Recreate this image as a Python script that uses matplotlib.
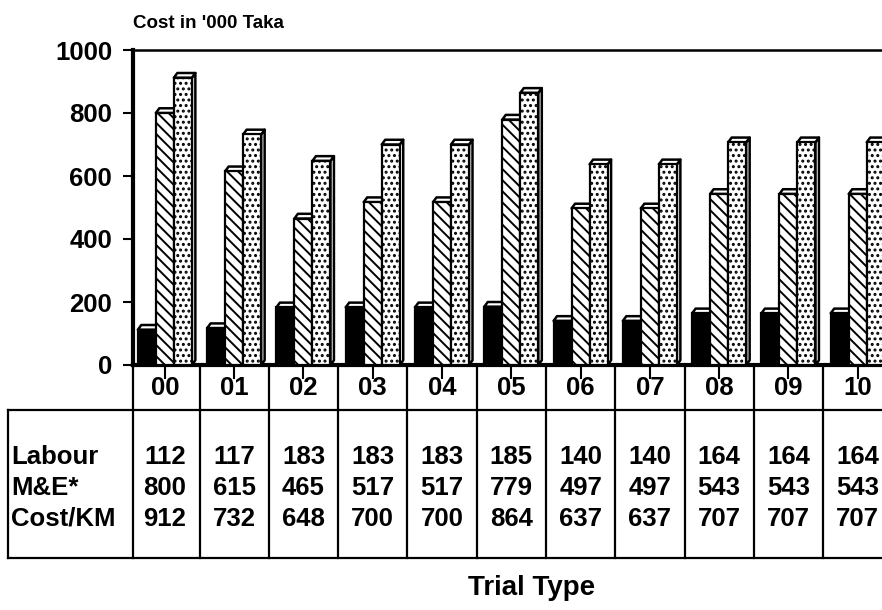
import numpy as np
import matplotlib.pyplot as plt
from matplotlib import rcParams
from matplotlib.patches import Polygon
from matplotlib.transforms import blended_transform_factory

# ========================
# ДАННЫЕ
# ========================
trial_types = ["00", "01", "02", "03", "04", "05", "06", "07", "08", "09", "10"]
labour = [112, 117, 183, 183, 183, 185, 140, 140, 164, 164, 164]
m_and_e = [800, 615, 465, 517, 517, 779, 497, 497, 543, 543, 543]
cost_km = [912, 732, 648, 700, 700, 864, 637, 637, 707, 707, 707]
row_names = ["Labour", "M&E*", "Cost/KM"]

# ========================
# СТИЛЬ
# ========================
rcParams['font.family'] = ['Liberation Sans', 'DejaVu Sans']
rcParams['font.weight'] = 'bold'
rcParams['hatch.linewidth'] = 1.4
rcParams['hatch.color'] = 'black'

FS_TABLE = 18.5
FS_TICK = 18.5

W, H = 882, 610
fig = plt.figure(figsize=(W / 100, H / 100), dpi=100)

# положение осей в пикселях (от верхнего края)
AX_L, AX_TOP, AX_BOT = 133, 50, 365
ax = fig.add_axes([AX_L / W, 1 - AX_BOT / H, 1 - AX_L / W, (AX_BOT - AX_TOP) / H])

x = np.arange(len(trial_types))
bw = 0.26
dx, dy = 0.05, 15   # глубина "3D" крышек

series = [
    (labour, -bw, dict(color='black', edgecolor='black')),
    (m_and_e, 0.0, dict(color='white', edgecolor='black', hatch='\\\\\\')),
    (cost_km, bw, dict(color='white', edgecolor='black', hatch='...')),
]

for k, (vals, off, style) in enumerate(series):
    ax.bar(x + off, vals, bw, linewidth=1.6, zorder=3 + 2 * k, **style)
    for xi, v in zip(x + off, vals):
        x0, x1 = xi - bw / 2, xi + bw / 2
        top = Polygon([(x0, v), (x0 + dx, v + dy), (x1 + dx, v + dy), (x1, v)],
                      closed=True, facecolor='white', edgecolor='black',
                      linewidth=1.8, joinstyle='round', zorder=2 + 2 * k)
        side = Polygon([(x1, 0), (x1, v), (x1 + dx, v + dy), (x1 + dx, dy)],
                       closed=True, facecolor='white', edgecolor='black',
                       linewidth=1.8, joinstyle='round', zorder=2 + 2 * k)
        ax.add_patch(side)
        ax.add_patch(top)

ax.set_xlim(-0.46, 10.35)
ax.set_ylim(0, 1000)
ax.set_yticks([0, 200, 400, 600, 800, 1000])
ax.set_xticks(x)
ax.set_xticklabels([])
ax.tick_params(axis='y', direction='out', length=7, width=1.5, pad=8, labelsize=FS_TICK)
ax.tick_params(axis='x', direction='out', length=10, width=1.5)
for lbl in ax.get_yticklabels():
    lbl.set_fontweight('bold')
ax.spines['right'].set_visible(False)
ax.spines['left'].set_linewidth(3)
ax.spines['top'].set_linewidth(1.8)
ax.spines['bottom'].set_linewidth(3)

fig.text(AX_L / W, 1 - 24 / H, "Cost in '000 Taka", fontsize=13.5,
         fontweight='bold', ha='left', va='center')

# ========================
# ТАБЛИЦА ПОД ГРАФИКОМ
# ========================
tr = blended_transform_factory(ax.transData, fig.transFigure)
fy = lambda py: 1 - py / H   # пиксели сверху -> доли фигуры
HDR_BOT, TBL_BOT, TBL_L = 410, 558, 8
row_y = [457, 488, 519]
lw = 1.6

# вертикальные разделители столбцов
for b in np.arange(len(trial_types) - 1) + 0.5:
    ax.plot([b, b], [fy(AX_BOT), fy(TBL_BOT)], transform=tr, color='black',
            lw=lw, clip_on=False)
ax.plot([-0.46, -0.46], [fy(AX_BOT), fy(TBL_BOT)], transform=tr, color='black',
        lw=lw, clip_on=False)

# горизонтальные линии и левая граница таблицы
fig.add_artist(plt.Line2D([TBL_L / W, 1], [fy(HDR_BOT)] * 2, color='black', lw=lw))
fig.add_artist(plt.Line2D([TBL_L / W, 1], [fy(TBL_BOT)] * 2, color='black', lw=lw))
fig.add_artist(plt.Line2D([TBL_L / W] * 2, [fy(HDR_BOT), fy(TBL_BOT)], color='black', lw=lw))

for xi, name in zip(x, trial_types):
    ax.text(xi, fy(388), name, transform=tr, ha='center', va='center',
            fontsize=FS_TABLE, fontweight='bold')

for ry, name, vals in zip(row_y, row_names, [labour, m_and_e, cost_km]):
    fig.text(11 / W, fy(ry), name, ha='left', va='center', fontsize=FS_TABLE,
             fontweight='bold')
    for xi, v in zip(x, vals):
        ax.text(xi, fy(ry), str(v), transform=tr, ha='center', va='center',
                fontsize=FS_TABLE, fontweight='bold')

fig.text(532 / W, fy(595), "Trial Type", ha='center', va='baseline', fontsize=20,
         fontweight='bold')

fig.savefig("out.png", dpi=100)
